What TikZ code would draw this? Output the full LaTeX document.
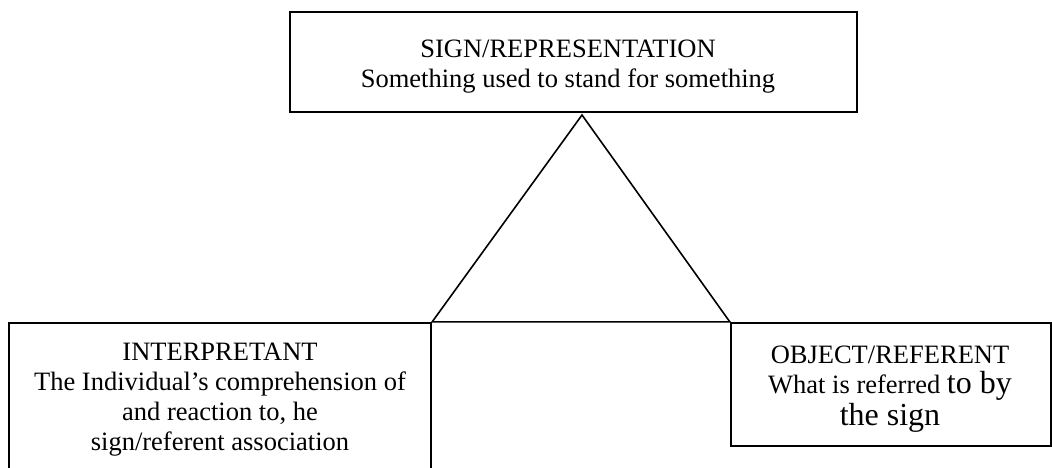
\documentclass[tikz,border=0pt]{standalone}
\usepackage{fontspec}
\setmainfont{Liberation Serif}
\begin{document}
\begin{tikzpicture}[x=1pt,y=-1pt,
  box/.style={draw=black,line width=2.4pt,inner sep=0pt,minimum width=#1},
  tri/.style={draw=black,line width=1.6pt,line join=miter},
  txt/.style={align=center,inner sep=0pt,anchor=base,font=\fontsize{26.5}{30}\selectfont}]
\useasboundingbox (0,0) rectangle (1052,467);
% boxes
\node[box=567pt,minimum height=100pt] (sign) at (573.5,62) {};
\node[box=422pt,minimum height=170pt] (interp) at (220,408) {};
\node[box=320pt,minimum height=123pt] (object) at (891,384.5) {};
% texts
\node[txt] (signtxt) at (568,87) {SIGN/REPRESENTATION\\Something used to stand for something};
\node[txt] (interptxt) at (220,450) {INTERPRETANT\\The Individual’s comprehension of\\and reaction to, he\\sign/referent association};
\node[txt] (objtxt) at (890,425) {OBJECT/REFERENT\\What is referred {\fontsize{32}{30}\selectfont to by}\\[2pt]{\fontsize{32}{32}\selectfont the sign}};
% triangle
\coordinate (apex) at (582,115);
\draw[tri] (apex) -- (interp.north east) -- (object.north west) -- cycle;
\end{tikzpicture}
\end{document}
